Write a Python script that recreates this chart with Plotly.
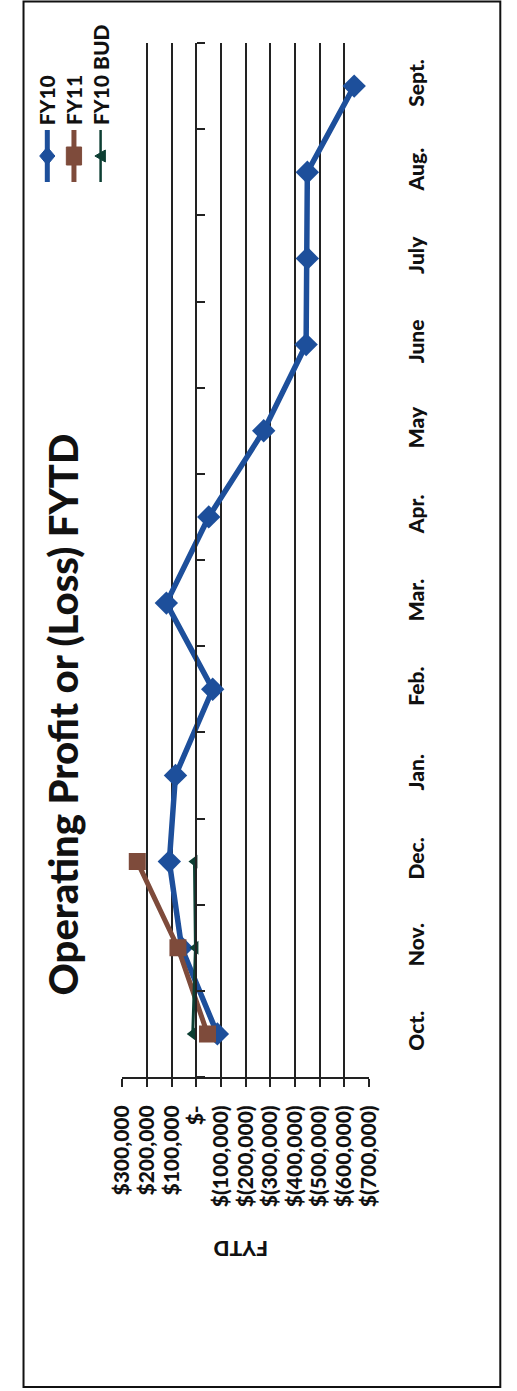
import plotly.graph_objects as go

# Fiscal-year months (October start)
months = ["Oct.", "Nov.", "Dec.", "Jan.", "Feb.", "Mar.", "Apr.", "May", "June", "July", "Aug.", "Sept."]

# Operating profit or (loss), fiscal year to date
fy10 = [-85000, 60000, 110000, 85000, -66000, 122000, -50000, -273000, -445000, -450000, -450000, -640000]
fy11 = [-45000, 75000, 240000]
fy10_bud = [15000, 4000, 8000]

value_ticks = [300000, 200000, 100000, 0, -100000, -200000, -300000, -400000, -500000, -600000, -700000]
value_labels = ["$300,000", "$200,000", "$100,000", "$-", "$(100,000)", "$(200,000)", "$(300,000)",
                "$(400,000)", "$(500,000)", "$(600,000)", "$(700,000)"]

W, H = 517, 1391
FONT = "Lato"
BLUE = "#1D4F9B"
BROWN = "#7E4B3B"
GREEN = "#0D3F33"
INK = "#111"


def px(x):
    return x / W


def py(y):
    return 1 - y / H


# plot area in pixels
PL, PR, PT, PB = 114, 373, 43, 1077
x_lo, x_hi = value_ticks[0], value_ticks[-1]
zero_frac = px(PL + (x_lo - 0) / (x_lo - x_hi) * (PR - PL))

tick_font = dict(family=FONT, size=21, color=INK, weight=900)

fig = go.Figure()

fig.add_trace(go.Scatter(
    x=fy10, y=months[:len(fy10)], name="FY10", mode="lines+markers",
    line=dict(color=BLUE, width=5.5),
    marker=dict(symbol="diamond", size=18, color=BLUE),
))
fig.add_trace(go.Scatter(
    x=fy11, y=months[:len(fy11)], name="FY11", mode="lines+markers",
    line=dict(color=BROWN, width=5),
    marker=dict(symbol="square", size=17, color=BROWN),
))
fig.add_trace(go.Scatter(
    x=fy10_bud, y=months[:len(fy10_bud)], name="FY10 BUD", mode="lines+markers",
    line=dict(color=GREEN, width=3),
    marker=dict(symbol="triangle-left", size=12, color=GREEN),
))

fig.update_layout(
    width=W, height=H,
    margin=dict(l=0, r=0, t=0, b=0),
    paper_bgcolor="white", plot_bgcolor="white",
    showlegend=False,
    xaxis=dict(
        domain=[px(PL), px(PR)],
        range=[x_lo, x_hi],
        tickmode="array", tickvals=value_ticks, ticktext=value_labels,
        tickangle=-90, ticklabelstandoff=10,
        tickfont=tick_font,
        showgrid=True, gridcolor="#222", gridwidth=1.8,
        zeroline=False,
        showline=True, linecolor="#222", linewidth=1.8,
        ticks="outside", ticklen=8, tickcolor="#222", tickwidth=1.8,
        fixedrange=True,
    ),
    yaxis=dict(
        domain=[py(PB), py(PT)],
        type="category", categoryorder="array", categoryarray=months,
        range=[-0.5, len(months) - 0.5],
        anchor="free", position=zero_frac, side="right",
        showline=True, linecolor="#222", linewidth=1.8,
        ticks="outside", tickson="boundaries", ticklen=8, tickcolor="#222", tickwidth=1.8,
        showgrid=False, zeroline=False,
        tickangle=-90, ticklabelstandoff=201,
        tickfont=tick_font,
        fixedrange=True,
    ),
)

annotations = [
    dict(text="Operating Profit or (Loss) FYTD", textangle=-90,
         x=px(51), y=py(715), xanchor="center", yanchor="middle",
         font=dict(family=FONT, size=40, color=INK, weight=900)),
    dict(text="FYTD", textangle=180,
         x=px(238), y=py(1250), xanchor="center", yanchor="middle",
         font=dict(family=FONT, size=21, color=INK, weight=900)),
]

# legend drawn sideways at the top-left corner
legend_items = [("FY10", BLUE, 35, "diamond", 5), ("FY11", BROWN, 63, "square", 5),
                ("FY10 BUD", GREEN, 91, "triangle", 2.5)]
shapes = []
key_top, key_bot = 130, 182
for label, color, cx, kind, lw in legend_items:
    annotations.append(dict(
        text=label, textangle=-90, x=px(cx), y=py(127), xanchor="center", yanchor="bottom",
        font=dict(family=FONT, size=21, color=INK, weight=900), showarrow=False))
    shapes.append(dict(type="line", xref="paper", yref="paper",
                       x0=px(cx), x1=px(cx), y0=py(key_top), y1=py(key_bot),
                       line=dict(color=color, width=lw)))
    cy = (key_top + key_bot) / 2
    if kind == "diamond":
        pts = [(cx, cy - 9), (cx + 8, cy), (cx, cy + 9), (cx - 8, cy)]
    elif kind == "square":
        pts = [(cx - 8, cy - 9), (cx + 8, cy - 9), (cx + 8, cy + 9), (cx - 8, cy + 9)]
    else:
        pts = [(cx - 6, cy), (cx + 5, cy - 6), (cx + 5, cy + 6)]
    path = "M " + " L ".join(f"{px(a):.5f},{py(b):.5f}" for a, b in pts) + " Z"
    shapes.append(dict(type="path", xref="paper", yref="paper", path=path,
                       fillcolor=color, line=dict(color=color, width=1)))

for a in annotations:
    a.setdefault("showarrow", False)
    a["xref"] = "paper"
    a["yref"] = "paper"

# chart-area border
shapes.append(dict(type="rect", xref="paper", yref="paper",
                   x0=px(10), x1=px(511), y0=py(1387), y1=py(1.5),
                   line=dict(color=INK, width=2)))

fig.update_layout(annotations=annotations, shapes=shapes)

fig.write_html("out.html")
